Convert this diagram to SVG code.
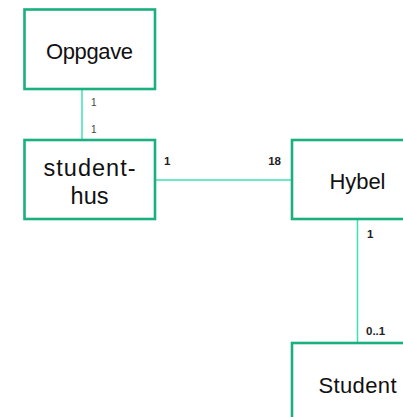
<svg xmlns="http://www.w3.org/2000/svg" width="403" height="417" viewBox="0 0 403 417">
<style>
.box{fill:#fff;stroke:#1aaf7e;stroke-width:2.6}
.lbl{font-family:"Liberation Sans",Arial,sans-serif;font-size:22px;fill:#111;text-anchor:middle}
.conn{stroke:#3ee2b2;stroke-width:1.5;fill:none}
.m{font-family:"Liberation Sans",Arial,sans-serif;font-size:10px;fill:#444}
.mb{font-family:"Liberation Sans",Arial,sans-serif;font-size:11.5px;font-weight:bold;fill:#222}
</style>
<rect width="403" height="417" fill="#fff"/>
<g id="connectors">
<line class="conn" x1="82" y1="89" x2="82" y2="140"/>
<line class="conn" x1="155" y1="180" x2="292" y2="180"/>
<line class="conn" x1="357.5" y1="219" x2="357.5" y2="343"/>
<text class="m" x="91" y="106">1</text>
<text class="m" x="91" y="133">1</text>
<text class="mb" x="164" y="165">1</text>
<text class="mb" x="281" y="165" text-anchor="end">18</text>
<text class="mb" x="367" y="238">1</text>
<text class="mb" x="366" y="335">0..1</text>
</g>
<g id="oppgave">
<rect class="box" x="24.5" y="9.5" width="130.5" height="79.5"/>
<text class="lbl" x="89.5" y="59" textLength="87" lengthAdjust="spacing">Oppgave</text>
</g>
<g id="studenthus">
<rect class="box" x="24.5" y="140" width="130.5" height="79"/>
<text class="lbl" x="89.5" y="176" style="font-size:23.5px" textLength="92" lengthAdjust="spacing">student-</text>
<text class="lbl" x="89.5" y="204" style="font-size:23.5px" textLength="38" lengthAdjust="spacing">hus</text>
</g>
<g id="hybel">
<rect class="box" x="292" y="140" width="131" height="79"/>
<text class="lbl" x="357.5" y="189" textLength="56" lengthAdjust="spacing">Hybel</text>
</g>
<g id="student">
<rect class="box" x="292" y="343" width="131" height="79"/>
<text class="lbl" x="357.5" y="392.5" textLength="78" lengthAdjust="spacing">Student</text>
</g>
</svg>
